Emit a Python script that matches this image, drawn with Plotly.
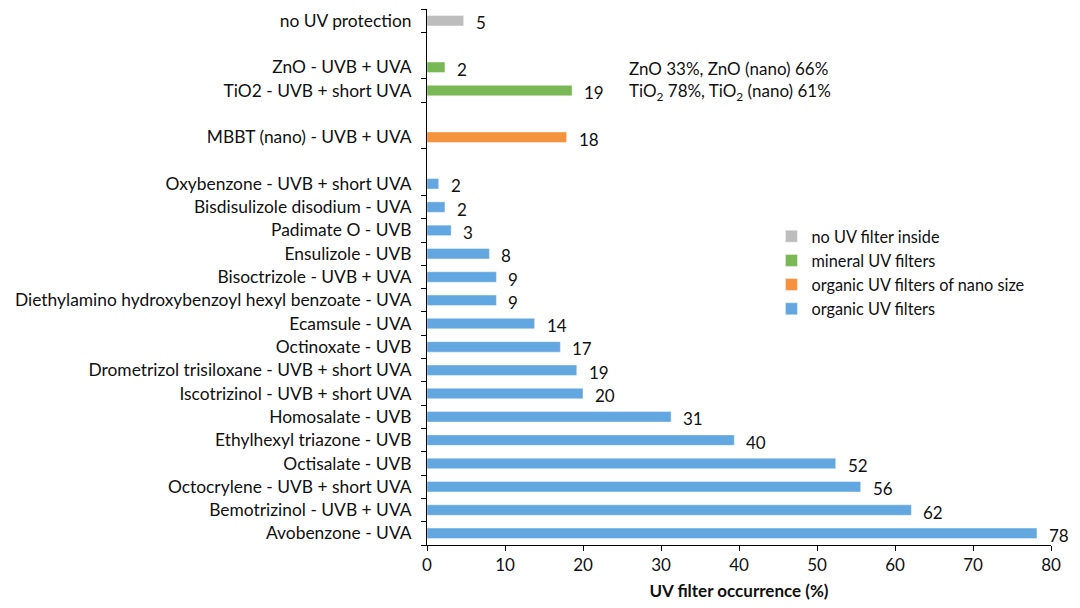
import plotly.graph_objects as go

# Categories listed top to bottom as in the chart ("" marks a blank spacer row)
categories = [
    "no UV protection", "",
    "ZnO - UVB + UVA", "TiO2 - UVB + short UVA", "",
    "MBBT (nano) - UVB + UVA", "",
    "Oxybenzone - UVB + short UVA", "Bisdisulizole disodium - UVA", "Padimate O - UVB",
    "Ensulizole - UVB", "Bisoctrizole - UVB + UVA",
    "Diethylamino hydroxybenzoyl hexyl benzoate - UVA", "Ecamsule - UVA",
    "Octinoxate - UVB", "Drometrizol trisiloxane - UVB + short UVA",
    "Iscotrizinol - UVB + short UVA", "Homosalate - UVB", "Ethylhexyl triazone - UVB",
    "Octisalate - UVB", "Octocrylene - UVB + short UVA", "Bemotrizinol - UVB + UVA",
    "Avobenzone - UVA",
]

groups = {
    "no UV filter inside": (["no UV protection"], [4.7], ["5"]),
    "mineral UV filters": (["ZnO - UVB + UVA", "TiO2 - UVB + short UVA"], [2.3, 18.6], ["2", "19"]),
    "organic UV filters of nano size": (["MBBT (nano) - UVB + UVA"], [17.9], ["18"]),
    "organic UV filters": (
        ["Oxybenzone - UVB + short UVA", "Bisdisulizole disodium - UVA", "Padimate O - UVB",
         "Ensulizole - UVB", "Bisoctrizole - UVB + UVA",
         "Diethylamino hydroxybenzoyl hexyl benzoate - UVA", "Ecamsule - UVA",
         "Octinoxate - UVB", "Drometrizol trisiloxane - UVB + short UVA",
         "Iscotrizinol - UVB + short UVA", "Homosalate - UVB", "Ethylhexyl triazone - UVB",
         "Octisalate - UVB", "Octocrylene - UVB + short UVA", "Bemotrizinol - UVB + UVA",
         "Avobenzone - UVA"],
        [1.5, 2.3, 3.1, 8.0, 8.9, 8.9, 13.8, 17.1, 19.2, 20.0, 31.3, 39.4, 52.4, 55.6, 62.1, 78.2],
        ["2", "2", "3", "8", "9", "9", "14", "17", "19", "20", "31", "40", "52", "56", "62", "78"],
    ),
}
colors = {
    "no UV filter inside": "#bdbdbd",
    "mineral UV filters": "#7ab856",
    "organic UV filters of nano size": "#f5923e",
    "organic UV filters": "#62a7e0",
}

# side notes on mineral filters, placed beside their rows
notes = [
    ("ZnO - UVB + UVA", "ZnO 33%, ZnO (nano) 66%"),
    ("TiO2 - UVB + short UVA", "TiO<sub>2</sub> 78%, TiO<sub>2</sub> (nano) 61%"),
]
note_x = 25.7

# unique names for spacer rows
cat_axis = []
n_blank = 0
for c in categories:
    if c == "":
        n_blank += 1
        cat_axis.append(" " * n_blank)
    else:
        cat_axis.append(c)
cat_axis = cat_axis[::-1]  # bottom to top
real_cats = [c for c in cat_axis if c.strip()]

FS = 17
fig = go.Figure()
annotations = []
for name, (cats, vals, labels) in groups.items():
    fig.add_trace(go.Bar(
        y=cats, x=vals, orientation="h", name=name,
        marker=dict(color=colors[name], line=dict(width=0.6, color="rgba(255,255,255,0.7)")),
        width=0.45,
    ))
    for c, v, t in zip(cats, vals, labels):
        annotations.append(dict(x=v, y=c, xref="x", yref="y", text=t, showarrow=False,
                                xanchor="left", xshift=10, yshift=-2,
                                font=dict(size=FS, color="#111")))

for row, txt in notes:
    annotations.append(dict(x=note_x, y=row, xref="x", yref="y", text=txt, showarrow=False,
                            xanchor="left", yanchor="middle", yshift=-1,
                            font=dict(size=FS, color="#111")))

# the page has an 8px body margin, so margins are offset to land on the reference positions
fig.update_layout(
    width=1080, height=608,
    margin=dict(l=419, r=37, t=1, b=71),
    paper_bgcolor="white", plot_bgcolor="white",
    font=dict(family="Lato, Open Sans, sans-serif", size=FS, color="#111"),
    barmode="overlay",
    showlegend=True,
    legend=dict(x=0.552, y=0.608, xanchor="left", yanchor="top",
                font=dict(size=16.3), traceorder="normal", bgcolor="rgba(0,0,0,0)",
                itemclick=False, tracegroupgap=0),
    annotations=annotations,
)
fig.update_yaxes(
    type="category", categoryorder="array", categoryarray=cat_axis,
    tickmode="array", tickvals=real_cats, ticktext=real_cats,
    tickson="boundaries", ticks="outside", ticklen=5, tickcolor="#000",
    showline=True, linecolor="#000", linewidth=1, showgrid=False,
    range=[-0.5, len(cat_axis) - 0.5], automargin=False,
    tickfont=dict(size=17.4), ticklabelstandoff=11,
)
fig.update_xaxes(
    range=[0, 80], dtick=10, ticks="outside", ticklen=5, tickcolor="#000",
    showline=True, linecolor="#000", linewidth=1, showgrid=False, zeroline=False,
    title=dict(text="<b>UV filter occurrence (%)</b>", font=dict(size=FS), standoff=10),
    tickfont=dict(size=FS), automargin=False,
)

fig.write_html("out.html")
